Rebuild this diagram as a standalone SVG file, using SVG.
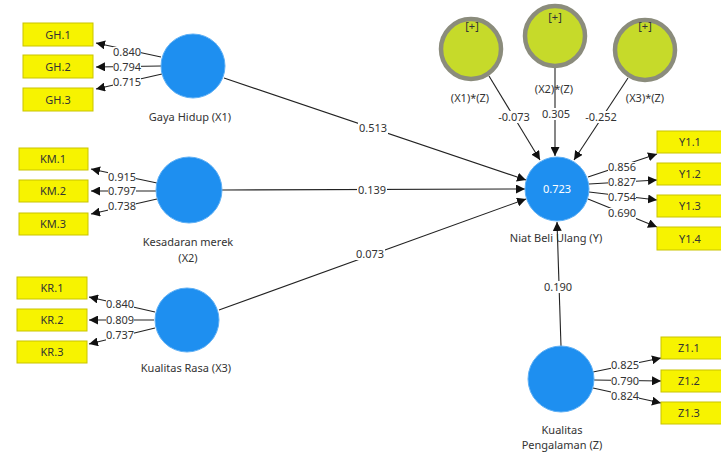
<svg xmlns="http://www.w3.org/2000/svg" width="721" height="466" viewBox="0 0 721 466">
<defs>
<style>
.box{fill:#f7f300;stroke:#c9c400;stroke-width:1}
.bt{font-family:"Noto Sans","Open Sans",sans-serif;font-size:11px;fill:#333;text-anchor:middle}
.lv{fill:#1e8ff0;stroke:#5fb0f5;stroke-width:1}
.mod{fill:#c6da2a;stroke:#8b8c7c;stroke-width:4.5}
.nl{font-family:"Noto Sans","Open Sans",sans-serif;font-size:11px;fill:#333;text-anchor:middle}
.ln{stroke:#222;stroke-width:1.1;fill:none;marker-end:url(#ah)}
.lb{font-family:"Noto Sans","Open Sans",sans-serif;font-size:11px;fill:#333;text-anchor:middle}
.bg{fill:#fff}
</style>
<marker id="ah" markerUnits="userSpaceOnUse" markerWidth="10" markerHeight="9" refX="9" refY="4.5" orient="auto">
<path d="M0,0 L9,4.5 L0,9 z" fill="#111"/>
</marker>
</defs>
<rect width="721" height="466" fill="#fff"/>

<g id="connectors">
<!-- GH loadings -->
<line class="ln" x1="161" y1="57" x2="96" y2="43"/>
<line class="ln" x1="161" y1="66" x2="96" y2="67"/>
<line class="ln" x1="162" y1="74" x2="96" y2="89"/>
<rect class="bg" x="113" y="47" width="28" height="11"/>
<rect class="bg" x="113" y="62" width="28" height="11"/>
<rect class="bg" x="113" y="77" width="28" height="11"/>
<text class="lb" x="127" y="56">0.840</text>
<text class="lb" x="127" y="71">0.794</text>
<text class="lb" x="127" y="86">0.715</text>
<!-- KM loadings -->
<line class="ln" x1="157" y1="183" x2="91" y2="169"/>
<line class="ln" x1="156" y1="191" x2="91" y2="191"/>
<line class="ln" x1="157" y1="199" x2="91" y2="214"/>
<rect class="bg" x="108" y="172" width="28" height="11"/>
<rect class="bg" x="108" y="186" width="28" height="11"/>
<rect class="bg" x="108" y="201" width="28" height="11"/>
<text class="lb" x="122" y="181">0.915</text>
<text class="lb" x="122" y="195">0.797</text>
<text class="lb" x="122" y="210">0.738</text>
<!-- KR loadings -->
<line class="ln" x1="155" y1="312" x2="89" y2="297"/>
<line class="ln" x1="154" y1="320" x2="89" y2="320"/>
<line class="ln" x1="155" y1="328" x2="89" y2="344"/>
<rect class="bg" x="106" y="299" width="28" height="11"/>
<rect class="bg" x="106" y="315" width="28" height="11"/>
<rect class="bg" x="106" y="330" width="28" height="11"/>
<text class="lb" x="120" y="308">0.840</text>
<text class="lb" x="120" y="324">0.809</text>
<text class="lb" x="120" y="339">0.737</text>
<!-- structural paths -->
<line class="ln" x1="224" y1="78" x2="526" y2="180"/>
<line class="ln" x1="222" y1="190" x2="525" y2="189"/>
<line class="ln" x1="219" y1="310" x2="526" y2="199"/>
<rect class="bg" x="358" y="122" width="30" height="12"/>
<rect class="bg" x="357" y="184" width="30" height="12"/>
<rect class="bg" x="355" y="248" width="30" height="12"/>
<text class="lb" x="373" y="132">0.513</text>
<text class="lb" x="372" y="194">0.139</text>
<text class="lb" x="370" y="258">0.073</text>
<!-- moderators -->
<line class="ln" x1="489" y1="76" x2="540" y2="160"/>
<line class="ln" x1="555" y1="68" x2="555" y2="156"/>
<line class="ln" x1="628" y1="78" x2="574" y2="160"/>
<rect class="bg" x="497" y="111" width="34" height="12"/>
<rect class="bg" x="541" y="108" width="30" height="12"/>
<rect class="bg" x="584" y="111" width="34" height="12"/>
<text class="lb" x="514" y="121">-0.073</text>
<text class="lb" x="556" y="118">0.305</text>
<text class="lb" x="601" y="121">-0.252</text>
<!-- Z to Y -->
<line class="ln" x1="561" y1="346" x2="557" y2="222"/>
<rect class="bg" x="543" y="281" width="30" height="12"/>
<text class="lb" x="558" y="291">0.190</text>
<!-- Y loadings -->
<line class="ln" x1="588" y1="177" x2="657" y2="154"/>
<line class="ln" x1="589" y1="184" x2="657" y2="180"/>
<line class="ln" x1="589" y1="192" x2="657" y2="200"/>
<line class="ln" x1="588" y1="199" x2="657" y2="227"/>
<rect class="bg" x="608" y="162" width="28" height="11"/>
<rect class="bg" x="608" y="177" width="28" height="11"/>
<rect class="bg" x="608" y="192" width="28" height="11"/>
<rect class="bg" x="608" y="208" width="28" height="11"/>
<text class="lb" x="622" y="171">0.856</text>
<text class="lb" x="622" y="186">0.827</text>
<text class="lb" x="622" y="201">0.754</text>
<text class="lb" x="622" y="217">0.690</text>
<!-- Z loadings -->
<line class="ln" x1="593" y1="372" x2="661" y2="358"/>
<line class="ln" x1="594" y1="380" x2="661" y2="381"/>
<line class="ln" x1="593" y1="388" x2="661" y2="403"/>
<rect class="bg" x="611" y="360" width="28" height="11"/>
<rect class="bg" x="611" y="376" width="28" height="11"/>
<rect class="bg" x="611" y="391" width="28" height="11"/>
<text class="lb" x="625" y="369">0.825</text>
<text class="lb" x="625" y="385">0.790</text>
<text class="lb" x="625" y="400">0.824</text>
</g>

<g id="GH1"><rect class="box" x="23" y="23" width="70" height="23"/><text class="bt" x="58" y="39">GH.1</text></g>
<g id="GH2"><rect class="box" x="23" y="55" width="70" height="23"/><text class="bt" x="58" y="71">GH.2</text></g>
<g id="GH3"><rect class="box" x="23" y="88" width="70" height="23"/><text class="bt" x="58" y="104">GH.3</text></g>

<g id="KM1"><rect class="box" x="19" y="148" width="69" height="22"/><text class="bt" x="53" y="163">KM.1</text></g>
<g id="KM2"><rect class="box" x="19" y="180" width="69" height="22"/><text class="bt" x="53" y="195">KM.2</text></g>
<g id="KM3"><rect class="box" x="19" y="213" width="69" height="22"/><text class="bt" x="53" y="228">KM.3</text></g>

<g id="KR1"><rect class="box" x="17" y="277" width="70" height="22"/><text class="bt" x="52" y="292">KR.1</text></g>
<g id="KR2"><rect class="box" x="17" y="309" width="70" height="22"/><text class="bt" x="52" y="324">KR.2</text></g>
<g id="KR3"><rect class="box" x="17" y="341" width="70" height="22"/><text class="bt" x="52" y="356">KR.3</text></g>

<g id="Y11"><rect class="box" x="657" y="131" width="70" height="22"/><text class="bt" x="690" y="146">Y1.1</text></g>
<g id="Y12"><rect class="box" x="657" y="163" width="70" height="22"/><text class="bt" x="690" y="178">Y1.2</text></g>
<g id="Y13"><rect class="box" x="657" y="195" width="70" height="22"/><text class="bt" x="690" y="210">Y1.3</text></g>
<g id="Y14"><rect class="box" x="657" y="227" width="70" height="23"/><text class="bt" x="690" y="243">Y1.4</text></g>

<g id="Z11"><rect class="box" x="661" y="337" width="70" height="22"/><text class="bt" x="689" y="352">Z1.1</text></g>
<g id="Z12"><rect class="box" x="661" y="370" width="70" height="22"/><text class="bt" x="689" y="385">Z1.2</text></g>
<g id="Z13"><rect class="box" x="661" y="402" width="70" height="22"/><text class="bt" x="689" y="417">Z1.3</text></g>

<g id="X1"><circle class="lv" cx="193" cy="66" r="32"/><text class="nl" x="190" y="121">Gaya Hidup (X1)</text></g>
<g id="X2"><circle class="lv" cx="189" cy="190" r="33"/><text class="nl" x="188" y="246">Kesadaran merek</text><text class="nl" x="188" y="262">(X2)</text></g>
<g id="X3"><circle class="lv" cx="187" cy="320" r="32"/><text class="nl" x="186" y="372">Kualitas Rasa (X3)</text></g>
<g id="Y"><circle class="lv" cx="557" cy="189" r="32"/><text x="557" y="193" font-family="Noto Sans, Open Sans, sans-serif" font-size="11" fill="#fff" text-anchor="middle">0.723</text><text class="nl" x="556" y="242">Niat Beli Ulang (Y)</text></g>
<g id="Z"><circle class="lv" cx="561" cy="379" r="33"/><text class="nl" x="562" y="434">Kualitas</text><text class="nl" x="562" y="449">Pengalaman (Z)</text></g>

<g id="X1Z"><circle class="mod" cx="471" cy="49" r="30"/><text class="bt" x="472" y="30">[+]</text><text class="nl" x="470" y="102">(X1)*(Z)</text></g>
<g id="X2Z"><circle class="mod" cx="555" cy="36" r="30"/><text class="bt" x="555" y="21">[+]</text><text class="nl" x="554" y="93">(X2)*(Z)</text></g>
<g id="X3Z"><circle class="mod" cx="645" cy="50" r="30"/><text class="bt" x="645" y="30">[+]</text><text class="nl" x="645" y="102">(X3)*(Z)</text></g>
</svg>
